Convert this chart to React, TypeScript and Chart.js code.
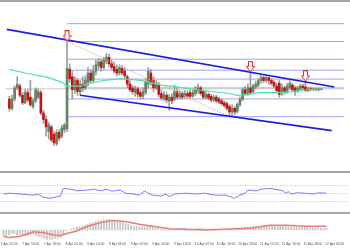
import React, { useEffect, useRef } from "react";
import { Chart, registerables } from "chart.js";

Chart.register(...registerables);

// ---- time axis (hours from 7 Apr 00:00) ----
const tickHours = [2, 10, 18, 26, 34, 42, 50, 58, 66, 74, 82, 90, 98, 106, 114, 122];
const tickLabels = [
  "7 Apr 02:00", "7 Apr 10:00", "7 Apr 18:00", "8 Apr 02:00", "8 Apr 10:00", "8 Apr 18:00",
  "9 Apr 02:00", "9 Apr 10:00", "9 Apr 18:00", "10 Apr 02:00", "10 Apr 10:00", "10 Apr 18:00",
  "11 Apr 02:00", "11 Apr 10:00", "11 Apr 18:00", "12 Apr 02:00",
];

// ---- hourly candles (price in pips) ----
const opens = [
  600, 590, 600, 612, 614, 604, 596, 607, 602, 592,
  598, 602, 607, 585, 578, 565, 570, 562, 552, 564,
  560, 567, 568, 632, 624, 610, 620, 608, 616, 612,
  618, 628, 620, 630, 636, 640, 634, 641, 645, 638,
  635, 632, 628, 633, 630, 624, 616, 612, 607, 611,
  607, 603, 607, 616, 628, 620, 612, 615, 606, 601,
  604, 598, 602, 600, 608, 602, 606, 603, 606, 607,
  603, 606, 609, 612, 608, 602, 605, 603, 599, 602,
  600, 598, 596, 595, 592, 586, 590, 587, 594, 600,
  610, 606, 612, 608, 613, 615, 620, 623, 620, 623,
  620, 618, 614, 617, 607, 612, 608, 612, 615, 612,
  609, 611, 614, 613, 609, 611, 610, 610, 611, 610,
];
const closes = [
  590, 600, 612, 616, 604, 596, 607, 599, 594, 598,
  610, 608, 585, 578, 570, 572, 556, 553, 564, 558,
  569, 572, 633, 622, 610, 620, 608, 616, 612, 620,
  628, 620, 630, 637, 640, 634, 642, 645, 638, 634,
  630, 628, 634, 628, 625, 616, 610, 608, 611, 605,
  603, 608, 618, 630, 618, 612, 616, 605, 601, 605,
  599, 602, 598, 608, 602, 606, 602, 606, 603, 603,
  607, 610, 612, 606, 602, 605, 601, 599, 602, 598,
  597, 595, 593, 590, 586, 590, 586, 594, 600, 610,
  606, 612, 607, 614, 616, 620, 623, 620, 623, 620,
  617, 614, 609, 605, 612, 608, 614, 617, 610, 608,
  612, 614, 612, 609, 611, 610, 611, 611, 610, 611,
];
const highs = [
  603, 604, 614, 624, 616, 607, 610, 610, 620, 601,
  612, 611, 609, 588, 582, 575, 572, 565, 567, 567,
  572, 574, 662, 638, 630, 624, 622, 620, 624, 625,
  634, 632, 636, 642, 644, 643, 645, 649, 648, 642,
  640, 636, 637, 636, 634, 626, 620, 615, 614, 613,
  610, 612, 622, 634, 632, 624, 620, 618, 610, 608,
  607, 605, 606, 615, 612, 609, 608, 609, 609, 610,
  610, 614, 616, 614, 610, 608, 607, 605, 604, 604,
  602, 600, 598, 597, 594, 594, 592, 596, 602, 612,
  614, 616, 628, 616, 619, 622, 626, 625, 625, 624,
  622, 620, 617, 620, 616, 614, 617, 620, 617, 614,
  614, 616, 616, 620, 613, 613, 612, 612, 612, 612,
];
const lows = [
  587, 588, 598, 610, 602, 594, 595, 597, 592, 590,
  596, 600, 583, 574, 560, 557, 554, 550, 550, 555,
  558, 564, 565, 618, 600, 606, 604, 604, 608, 610,
  614, 617, 618, 626, 632, 630, 632, 638, 635, 632,
  628, 625, 626, 626, 622, 612, 608, 605, 603, 602,
  600, 600, 605, 612, 615, 608, 610, 602, 599, 598,
  596, 588, 595, 598, 600, 600, 600, 601, 601, 601,
  602, 604, 606, 604, 600, 600, 599, 597, 597, 596,
  595, 593, 591, 588, 581, 582, 583, 585, 592, 598,
  604, 604, 605, 606, 611, 613, 617, 618, 618, 616,
  615, 612, 607, 602, 604, 605, 606, 610, 608, 604,
  607, 609, 610, 608, 608, 609, 609, 609, 609, 610,
];

// ---- moving average ----
const maHours = [0, 6, 15, 20, 22, 27, 31, 36, 43, 50, 58, 64, 72, 84, 87, 91, 96, 102, 108, 114, 119];
const maValues = [632, 628, 623, 618, 614, 614, 617, 620, 622, 620, 615, 613, 610, 606, 604, 605, 607, 607, 608, 610, 611];

// ---- drawing objects ----
const fibHighHour = 22;
const fibLowHour = 84;
const fibRatios = [0, 0.236, 0.382, 0.5, 0.618, 0.764, 1, 1.236];
const upperTrendHours = [-1, 124];
const upperTrendPrices = [675, 613];
const lowerTrendHours = [27, 123];
const lowerTrendPrices = [604, 566];
const arrowHours = [22, 92, 113];
const arrowPrices = [668, 635, 625];

// ---- RSI ----
const rsiHours = [0, 2, 6, 11, 13, 14, 17, 19, 21, 22, 25, 27, 31, 33, 36, 38, 40, 43, 45, 48, 50, 52, 53, 55, 58, 60, 61, 63, 67, 71, 74, 78, 82, 84, 85, 87, 89, 90, 93, 95, 98, 100, 103, 104, 105, 106, 108, 111, 114, 116, 119];
const rsiValues = [49, 51, 49, 46, 49, 42, 38, 41, 44, 63, 61, 57, 59, 61, 57, 61, 56, 59, 51, 49, 46, 57, 52, 46, 44, 49, 42, 49, 51, 49, 51, 46, 46, 41, 38, 46, 51, 59, 57, 61, 63, 61, 57, 51, 55, 49, 52, 51, 49, 52, 51];
const rsiLevels = [70, 50, 30];

// ---- MACD ----
const macdHist = [
  -6, -6, -5, -4, -4, -5, -5, -5, -6, -6, -5, -5,
  -6, -7, -8, -9, -10, -10, -10, -9, -9, -8,
  -4, -1, 0, 1, 2, 3, 3, 4, 5, 6,
  7, 8, 9, 10, 10, 11, 11, 11, 10, 10, 9, 9, 8, 7,
  6, 5, 4, 4, 3, 3, 3, 4, 4, 3, 2, 2, 1, 1, 0, 0, 1, 1,
  2, 2, 2, 2, 1, 1, 1, 2, 2, 2, 1, 1, 1, 1, 1, 1, 1, 1, 1, 1, 1, 1, 1, 2, 2, 3, 3,
  3, 4, 4, 4, 4, 5, 5, 5, 5, 5, 4, 4, 4, 4, 3, 3, 3, 3, 3, 3, 3, 3, 2, 2, 2, 2, 2, 2, 2,
];
const signalHours = [0, 2, 6, 11, 15, 18, 21, 23, 27, 31, 36, 40, 45, 50, 55, 62, 75, 84, 92, 98, 104, 112, 119];
const signalValues = [-7, -8, -7, -2, -3, -5, -6, -4, -1, 4, 8, 10, 9, 6, 4, 1, 0, 1, 2, 5, 5, 4, 4];

const X_MIN = -1.3;
const X_MAX = 127.7;

function seg(xs: number[], ys: number[], color: string, width: number, dash: number[], order: number) {
  return {
    type: "line" as const,
    data: xs.map((x, i) => ({ x, y: ys[i] })),
    borderColor: color,
    borderWidth: width,
    borderDash: dash,
    pointRadius: 0,
    fill: false,
    tension: 0,
    order,
  };
}

function makeArrow() {
  const c = document.createElement("canvas");
  c.width = 9;
  c.height = 11;
  const g = c.getContext("2d")!;
  g.beginPath();
  g.moveTo(2.5, 0.5);
  g.lineTo(6.5, 0.5);
  g.lineTo(6.5, 5.5);
  g.lineTo(8.5, 5.5);
  g.lineTo(4.5, 10.5);
  g.lineTo(0.5, 5.5);
  g.lineTo(2.5, 5.5);
  g.closePath();
  g.fillStyle = "#ffffff";
  g.fill();
  g.strokeStyle = "#e8261e";
  g.lineWidth = 1;
  g.stroke();
  return c;
}

const common = {
  responsive: false,
  animation: false as const,
  devicePixelRatio: 1,
  events: [] as any[],
  plugins: { legend: { display: false }, tooltip: { enabled: false } },
};

const hiddenX = { type: "linear" as const, min: X_MIN, max: X_MAX, offset: false, display: false };

export default function App() {
  const mainRef = useRef<HTMLCanvasElement>(null);
  const rsiRef = useRef<HTMLCanvasElement>(null);
  const macdRef = useRef<HTMLCanvasElement>(null);

  useEffect(() => {
    const idx = opens.map((_, i) => i);
    const fibHigh = highs[fibHighHour];
    const fibLow = lows[fibLowHour];
    const bid = closes[closes.length - 1];
    const arrow = makeArrow();

    const main = new Chart(mainRef.current!, {
      type: "bar",
      data: {
        datasets: [
          ...fibRatios.map((r) => {
            const lvl = fibLow + r * (fibHigh - fibLow);
            return seg([fibHighHour, X_MAX], [lvl, lvl], "#a3a3f5", 1, [], 10);
          }),
          seg([X_MIN, X_MAX], [bid, bid], "#c8c8c8", 1, [], 9),
          {
            type: "bar",
            data: idx.map((i) => ({ x: i, y: [lows[i], highs[i]] })),
            backgroundColor: "#9c9c9c",
            barThickness: 1,
            grouped: false,
            order: 6,
          },
          {
            type: "bar",
            data: idx.map((i) => ({ x: i, y: [opens[i], closes[i]] })),
            backgroundColor: idx.map((i) => (closes[i] >= opens[i] ? "#648464" : "#cc1010")),
            barThickness: 2,
            minBarLength: 1,
            grouped: false,
            order: 5,
          },
          seg(maHours, maValues, "#4ee4a2", 1.2, [], 4),
          seg([fibHighHour, fibLowHour], [fibHigh, fibLow], "#f49a9a", 1, [1.5, 1.5], 3),
          seg(upperTrendHours, upperTrendPrices, "#1c1cdc", 1.6, [], 2),
          seg(lowerTrendHours, lowerTrendPrices, "#1c1cdc", 1.6, [], 2),
          {
            type: "line",
            data: arrowHours.map((h, i) => ({ x: h, y: arrowPrices[i] })),
            showLine: false,
            pointStyle: arrow,
            pointRadius: 5,
            order: 1,
          },
        ] as any,
      },
      options: {
        ...common,
        layout: { padding: 0 },
        scales: {
          x: hiddenX,
          y: { type: "linear", min: 529, max: 698, display: false },
        },
      } as any,
    });

    const rsi = new Chart(rsiRef.current!, {
      type: "line",
      data: {
        datasets: [
          ...rsiLevels.map((l) => seg([X_MIN, X_MAX], [l, l], "#d8a4ee", 1, [1, 1.5], 3)),
          seg(rsiHours, rsiValues, "#7b7bf8", 1, [], 1),
        ] as any,
      },
      options: {
        ...common,
        layout: { padding: 0 },
        scales: {
          x: hiddenX,
          y: { type: "linear", min: 4, max: 101.5, display: false },
        },
      } as any,
    });

    const macd = new Chart(macdRef.current!, {
      type: "bar",
      data: {
        datasets: [
          {
            type: "bar",
            data: macdHist.map((v, i) => ({ x: i, y: v })),
            backgroundColor: "#c4c4c4",
            barThickness: 1,
            order: 2,
          },
          seg(signalHours, signalValues, "#f27a7a", 1.5, [], 1),
        ] as any,
      },
      options: {
        ...common,
        layout: { padding: { left: 0, right: 0, top: 0, bottom: 2.3 } },
        scales: {
          x: {
            type: "linear",
            min: X_MIN,
            max: X_MAX,
            offset: false,
            grid: { display: false, drawTicks: false },
            border: { display: false },
            afterBuildTicks: (s: any) => {
              s.ticks = tickHours.map((v) => ({ value: v }));
            },
            afterFit: (s: any) => {
              s.paddingLeft = 0;
              s.paddingRight = 0;
            },
            ticks: {
              autoSkip: false,
              maxRotation: 0,
              minRotation: 0,
              padding: 1.7,
              color: "#555555",
              font: { family: "'Liberation Sans', Arial, sans-serif", size: 3.3 },
              callback: (_v: any, i: number) => tickLabels[i],
            },
          },
          y: { type: "linear", min: -11, max: 17, display: false },
        },
      } as any,
    });

    return () => {
      main.destroy();
      rsi.destroy();
      macd.destroy();
    };
  }, []);

  const sep = (top: number) => ({
    position: "absolute" as const,
    left: 0,
    top,
    width: 350,
    height: 2,
    background: "#a5a5a5",
  });

  return (
    <div style={{ position: "absolute", left: 0, top: 0, width: 350, height: 250, background: "#ffffff", overflow: "hidden" }}>
      <div style={sep(0)} />
      <canvas ref={mainRef} width={350} height={169} style={{ position: "absolute", left: 0, top: 2 }} />
      <div style={sep(171)} />
      <canvas ref={rsiRef} width={350} height={39} style={{ position: "absolute", left: 0, top: 173 }} />
      <div style={sep(212)} />
      <canvas ref={macdRef} width={350} height={36} style={{ position: "absolute", left: 0, top: 214 }} />
    </div>
  );
}
